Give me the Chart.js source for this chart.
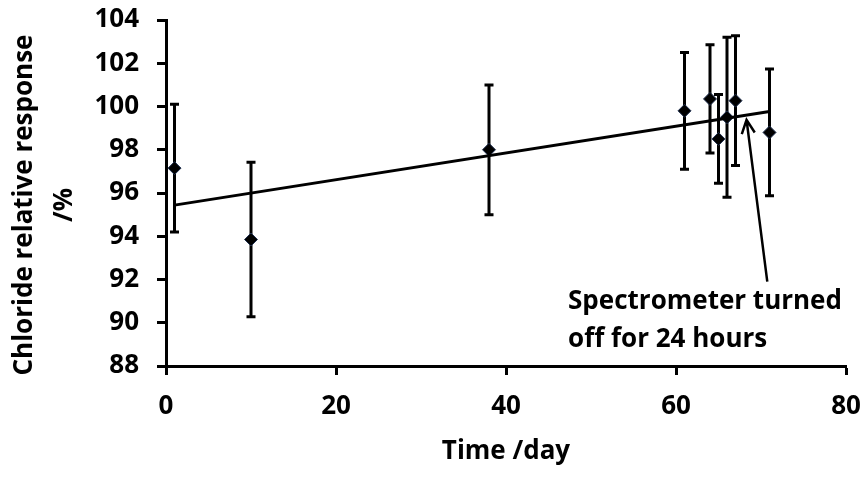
<!DOCTYPE html>
<html>
<head>
<meta charset="utf-8">
<script src="https://cdn.jsdelivr.net/npm/chart.js@4.4.1/dist/chart.umd.min.js"></script>
<style>
  html, body { margin: 0; padding: 0; background: #fff; }
  #wrap { width: 867px; height: 478px; }
</style>
</head>
<body>
<div id="wrap"><canvas id="chart" width="867" height="478"></canvas></div>
<script>
// measured points (day, relative response %, +/- error)
const DAYS = [1, 10, 38, 61, 64, 65, 66, 67, 71];
const RESPONSE = [97.15, 93.85, 98.0, 99.8, 100.35, 98.5, 99.5, 100.27, 98.8];
const ERRORS = [2.95, 3.57, 3.0, 2.7, 2.5, 2.05, 3.7, 3.0, 2.93];

// linear trend line end points
const TREND_DAYS = [1, 71];
const TREND_VALUES = [95.44, 99.77];

const X_TICKS = [0, 20, 40, 60, 80];
const Y_TICKS = [88, 90, 92, 94, 96, 98, 100, 102, 104];

// annotation, in data units
const NOTE_LINES = ["Spectrometer turned", "off for 24 hours"];
const NOTE_AT = { x: 47.3, y: 90.64 };
const ARROW_FROM = { x: 70.74, y: 91.9 };
const ARROW_TO = { x: 68.3, y: 99.38 };

const FONT = "'Open Sans', 'DejaVu Sans', sans-serif";
const FONT_SIZE = 26;
const INK = "#000";

const extras = {
  id: "extras",
  beforeDatasetsDraw(chart) {
    const { ctx, scales: { x, y } } = chart;
    ctx.save();
    ctx.strokeStyle = INK;
    ctx.lineWidth = 3;
    DAYS.forEach((d, i) => {
      const px = x.getPixelForValue(d);
      const top = y.getPixelForValue(RESPONSE[i] + ERRORS[i]);
      const bot = y.getPixelForValue(RESPONSE[i] - ERRORS[i]);
      ctx.beginPath();
      ctx.moveTo(px, top);
      ctx.lineTo(px, bot);
      ctx.moveTo(px - 4.5, top);
      ctx.lineTo(px + 4.5, top);
      ctx.moveTo(px - 4.5, bot);
      ctx.lineTo(px + 4.5, bot);
      ctx.stroke();
    });
    ctx.restore();
  },
  afterDraw(chart) {
    const { ctx, scales: { x, y } } = chart;
    ctx.save();

    // arrow
    const x0 = x.getPixelForValue(ARROW_FROM.x), y0 = y.getPixelForValue(ARROW_FROM.y);
    const x1 = x.getPixelForValue(ARROW_TO.x), y1 = y.getPixelForValue(ARROW_TO.y);
    const ang = Math.atan2(y1 - y0, x1 - x0);
    ctx.strokeStyle = INK;
    ctx.lineWidth = 2.5;
    ctx.beginPath();
    ctx.moveTo(x0, y0);
    ctx.lineTo(x1, y1);
    ctx.moveTo(x1 - 15 * Math.cos(ang - 0.45), y1 - 15 * Math.sin(ang - 0.45));
    ctx.lineTo(x1, y1);
    ctx.lineTo(x1 - 15 * Math.cos(ang + 0.45), y1 - 15 * Math.sin(ang + 0.45));
    ctx.stroke();

    // note text
    ctx.fillStyle = INK;
    ctx.font = `bold ${FONT_SIZE}px ${FONT}`;
    ctx.textAlign = "left";
    ctx.textBaseline = "alphabetic";
    const nx = x.getPixelForValue(NOTE_AT.x);
    const ny = y.getPixelForValue(NOTE_AT.y);
    NOTE_LINES.forEach((t, i) => ctx.fillText(t, nx, ny + i * 38));

    // y axis title, two lines
    const cy = (chart.chartArea.top + chart.chartArea.bottom) / 2 + 12;
    ctx.textAlign = "center";
    ctx.textBaseline = "middle";
    ctx.translate(25, cy);
    ctx.rotate(-Math.PI / 2);
    ctx.fillText("Chloride relative response", 0, 0);
    ctx.fillText("/%", 0, 40);
    ctx.restore();
  }
};

new Chart(document.getElementById("chart"), {
  type: "scatter",
  data: {
    datasets: [
      {
        type: "line",
        data: TREND_DAYS.map((d, i) => ({ x: d, y: TREND_VALUES[i] })),
        borderColor: INK,
        borderWidth: 3,
        pointRadius: 0,
        fill: false,
        tension: 0,
      },
      {
        data: DAYS.map((d, i) => ({ x: d, y: RESPONSE[i] })),
        pointStyle: "rectRot",
        pointRadius: 6.5,
        pointBackgroundColor: INK,
        pointBorderColor: "#1f2f4f",
        pointBorderWidth: 1,
      },
    ],
  },
  options: {
    responsive: false,
    animation: false,
    devicePixelRatio: 1,
    layout: { padding: { top: 20, right: 21, bottom: 0, left: 0 } },
    plugins: { legend: { display: false }, tooltip: { enabled: false } },
    scales: {
      x: {
        type: "linear",
        min: 0,
        max: 80,
        afterBuildTicks: (s) => { s.ticks = X_TICKS.map(v => ({ value: v })); },
        afterFit: (s) => {
          s.height = 478 - 366;
          s.paddingLeft = 0;
          s.paddingRight = 0;
        },
        border: { color: INK, width: 3 },
        grid: { drawOnChartArea: false, drawTicks: true, tickLength: 9, tickColor: INK, tickWidth: 3 },
        ticks: { color: INK, padding: 16, font: { family: FONT, size: FONT_SIZE, weight: "bold" } },
        title: {
          display: true,
          text: "Time /day",
          color: INK,
          padding: { top: 0, bottom: 11 },
          font: { family: FONT, size: FONT_SIZE, weight: "bold", lineHeight: 1.2 },
        },
      },
      y: {
        min: 88,
        max: 104,
        afterBuildTicks: (s) => { s.ticks = Y_TICKS.map(v => ({ value: v })); },
        afterFit: (s) => {
          s.width = 166;
          s.paddingTop = 0;
          s.paddingBottom = 0;
        },
        border: { color: INK, width: 3 },
        grid: { drawOnChartArea: false, drawTicks: true, tickLength: 9, tickColor: INK, tickWidth: 3 },
        ticks: { color: INK, padding: 18, font: { family: FONT, size: FONT_SIZE, weight: "bold" } },
      },
    },
  },
  plugins: [extras],
});
</script>
</body>
</html>
